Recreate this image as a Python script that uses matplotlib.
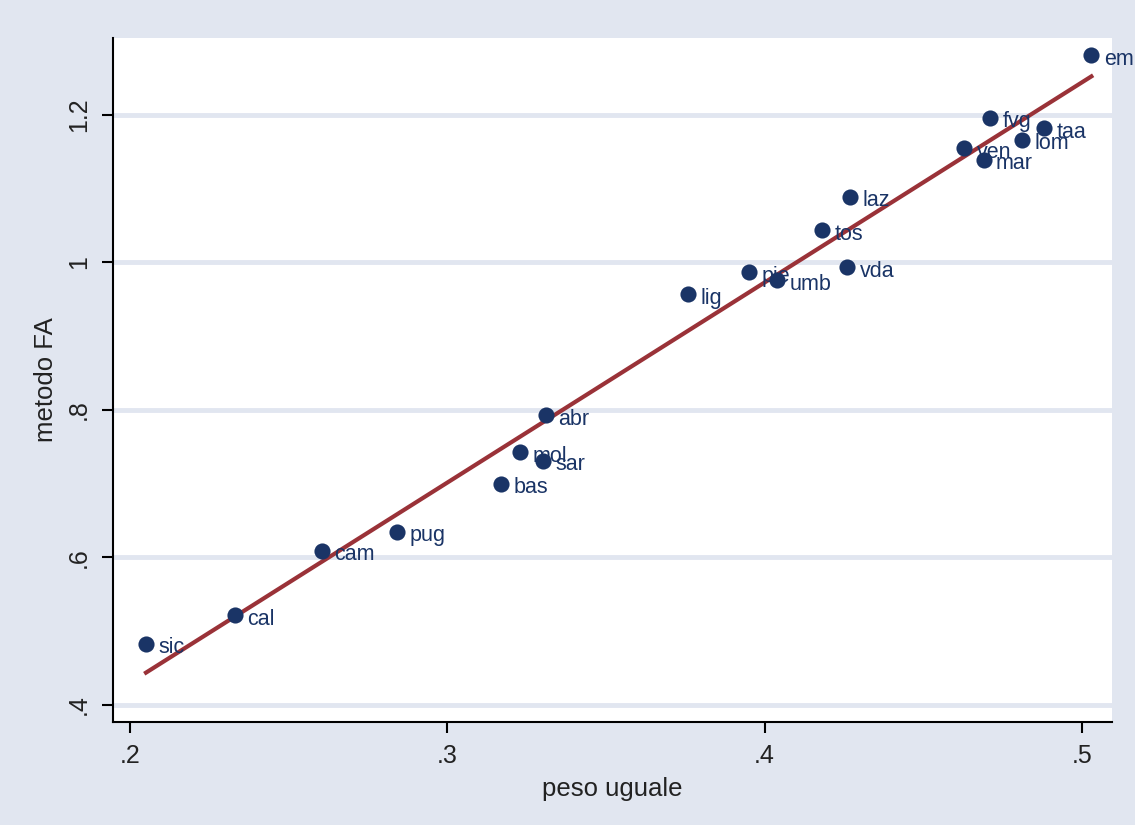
import numpy as np
import matplotlib.pyplot as plt

plt.rcParams["font.family"] = ["Liberation Sans", "DejaVu Sans"]

regions = ["em", "fvg", "taa", "lom", "ven", "mar", "laz", "tos", "vda", "pie",
           "umb", "lig", "abr", "mol", "sar", "bas", "pug", "cam", "cal", "sic"]
peso_uguale = [0.503, 0.471, 0.488, 0.481, 0.463, 0.469, 0.427, 0.418, 0.426, 0.395,
               0.404, 0.376, 0.331, 0.323, 0.330, 0.317, 0.284, 0.2605, 0.233, 0.205]
metodo_fa = [1.281, 1.196, 1.182, 1.166, 1.155, 1.139, 1.089, 1.044, 0.993, 0.987,
             0.976, 0.957, 0.793, 0.743, 0.731, 0.700, 0.635, 0.609, 0.522, 0.483]

x_ticks = [0.2, 0.3, 0.4, 0.5]
x_ticklabels = [".2", ".3", ".4", ".5"]
y_ticks = [0.4, 0.6, 0.8, 1.0, 1.2]
y_ticklabels = [".4", ".6", ".8", "1", "1.2"]

bg = "#E1E6F0"
navy = "#1A3466"
maroon = "#9A3238"

x = np.array(peso_uguale)
y = np.array(metodo_fa)

fig = plt.figure(figsize=(11.35, 8.25), dpi=100, facecolor=bg)
ax = fig.add_axes([113 / 1135, 103 / 825, 999 / 1135, 684 / 825])
ax.set_facecolor("white")

for t in y_ticks:
    ax.axhline(t, color=bg, lw=3.5, zorder=0)

ax.scatter(x, y, s=135, color=navy, zorder=3, linewidths=0)
for name, xi, yi in zip(regions, x, y):
    ax.annotate(name, (xi, yi), xytext=(9, -3), textcoords="offset points",
                va="center", ha="left", fontsize=15.5, color=navy, zorder=4)

b, a = np.polyfit(x, y, 1)
xs = np.array([x.min(), x.max()])
ax.plot(xs, a + b * xs, color=maroon, lw=3, zorder=2)

ax.set_xlim(0.1946, 0.5095)
ax.set_ylim(0.377, 1.304)
ax.set_xticks(x_ticks)
ax.set_xticklabels(x_ticklabels)
ax.set_yticks(y_ticks)
ax.set_yticklabels(y_ticklabels, rotation=90, va="center")
ax.tick_params(axis="both", direction="out", length=8, width=1.5,
               labelsize=18, pad=8, labelcolor="#222222")

for side in ["top", "right"]:
    ax.spines[side].set_visible(False)
for side in ["left", "bottom"]:
    ax.spines[side].set_linewidth(1.5)
    ax.spines[side].set_color("black")

ax.set_xlabel("peso uguale", fontsize=18.5, labelpad=6, color="#222222")
ax.set_ylabel("metodo FA", fontsize=18.5, labelpad=6, color="#222222")

plt.savefig("out.png", dpi=100, facecolor=bg)
